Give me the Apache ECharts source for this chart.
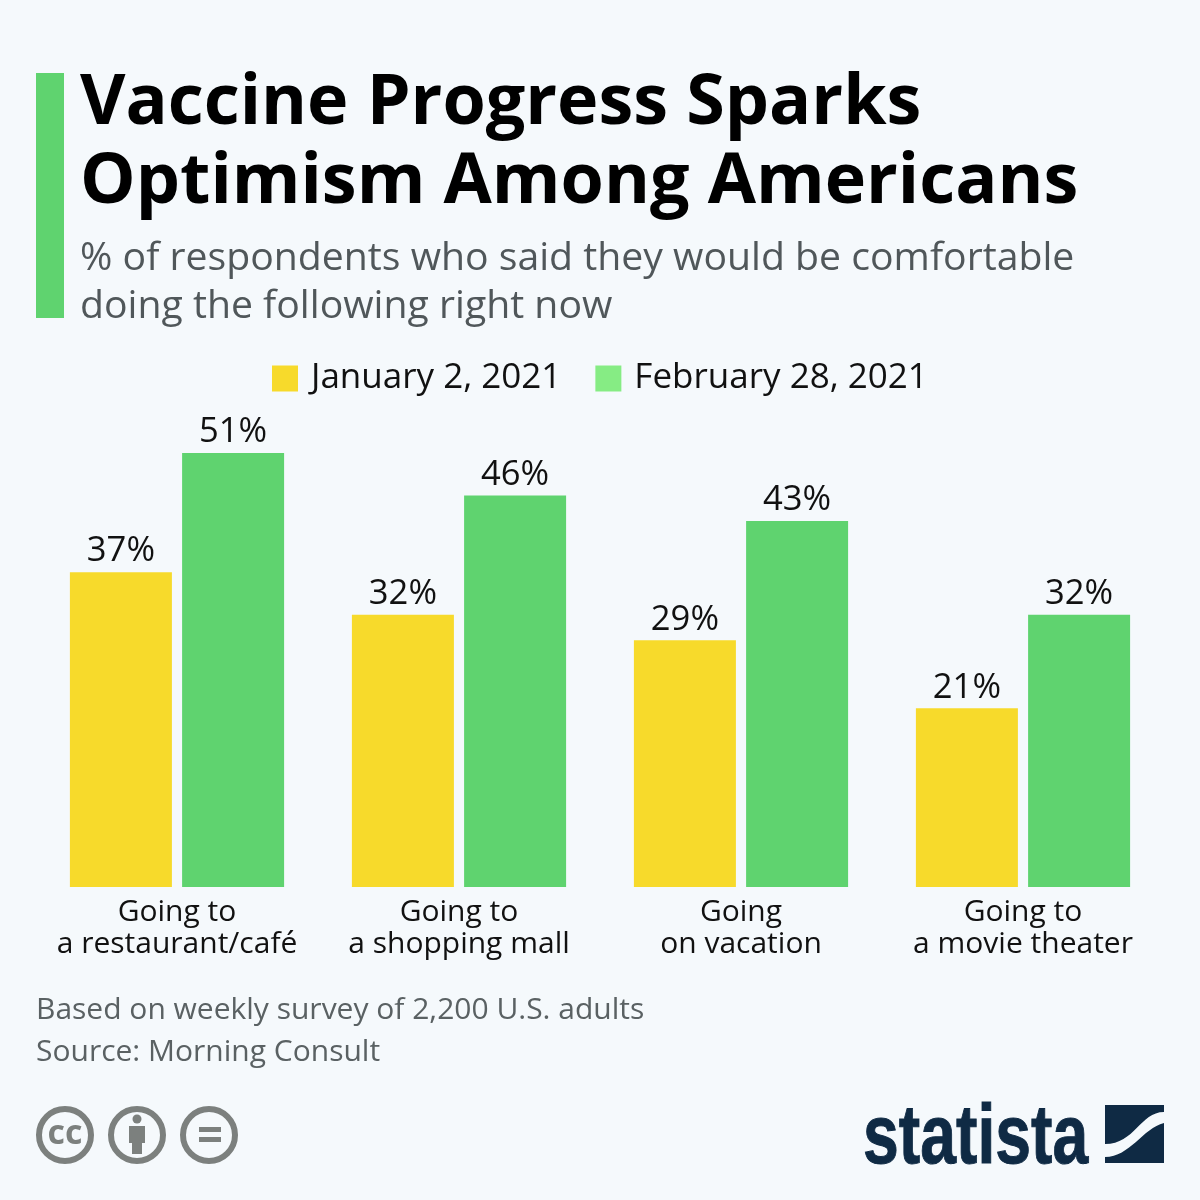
<!DOCTYPE html>
<html>
<head>
<meta charset="utf-8">
<style>
html, body { margin: 0; padding: 0; background: #f5f9fc; }
#chart { width: 1200px; height: 1200px; }
</style>
<script src="https://cdn.jsdelivr.net/npm/echarts@6/dist/echarts.min.js"></script>
</head>
<body>
<div id="chart"></div>
<script>
const categories = ['Going to\na restaurant/café', 'Going to\na shopping mall', 'Going\non vacation', 'Going to\na movie theater'];
const january = [37, 32, 29, 21];
const february = [51, 46, 43, 32];
const seriesNames = ['January 2, 2021', 'February 28, 2021'];

const FONT = '"Open Sans", "Noto Sans", sans-serif';
const GREY = '#7c807e';
const NAVY = '#0f2a44';

// graphic has no plain "path" type, so the logo mark is registered as a shape
echarts.graphic.registerShape('logoMark', echarts.graphic.extendShape({
    buildPath(ctx) {
        ctx.moveTo(1105, 1105);
        ctx.lineTo(1164, 1105);
        ctx.lineTo(1164, 1112);
        ctx.bezierCurveTo(1140, 1112, 1135, 1144, 1105, 1144);
        ctx.closePath();
        ctx.moveTo(1164, 1123);
        ctx.lineTo(1164, 1163);
        ctx.lineTo(1105, 1163);
        ctx.lineTo(1105, 1157);
        ctx.bezierCurveTo(1130, 1157, 1143, 1128, 1164, 1123);
        ctx.closePath();
    },
}));

const myChart = echarts.init(document.getElementById('chart'), null, { renderer: 'canvas' });

const valueLabel = {
    show: true,
    position: 'top',
    distance: 3,
    fontFamily: FONT,
    fontSize: 34.6,
    color: '#111',
    formatter: '{c}%',
};

const ring = (cx) => ({
    type: 'circle',
    shape: { cx: cx, cy: 1135, r: 26 },
    style: { fill: 'none', stroke: GREY, lineWidth: 6 },
});

const option = {
    backgroundColor: '#f5f9fc',
    animation: false,
    title: [
        {
            text: 'Vaccine Progress Sparks\nOptimism Among Americans',
            left: 80,
            top: 65,
            padding: 0,
            textStyle: { fontFamily: FONT, fontSize: 70, fontWeight: 'bold', color: '#000', lineHeight: 79 },
        },
        {
            text: '% of respondents who said they would be comfortable\ndoing the following right now',
            left: 80,
            top: 235,
            padding: 0,
            textStyle: { fontFamily: FONT, fontSize: 39.2, fontWeight: 'normal', color: '#50575a', lineHeight: 48 },
        },
        {
            text: 'Based on weekly survey of 2,200 U.S. adults\nSource: Morning Consult',
            left: 36,
            top: 989,
            padding: 0,
            textStyle: { fontFamily: FONT, fontSize: 30, fontWeight: 'normal', color: '#5a6163', lineHeight: 42 },
        },
    ],
    legend: {
        left: 272,
        top: 361,
        padding: 0,
        icon: 'rect',
        itemWidth: 26,
        itemHeight: 26,
        itemGap: 34,
        textStyle: { fontFamily: FONT, fontSize: 35, color: '#111', padding: [1, 0, 0, 8] },
        data: [
            { name: seriesNames[0], itemStyle: { color: '#f7da2b' } },
            { name: seriesNames[1], itemStyle: { color: '#86ec84' } },
        ],
    },
    grid: { left: 36, right: 36, top: 453, bottom: 313 },
    xAxis: {
        type: 'category',
        data: categories,
        axisLine: { show: false },
        axisTick: { show: false },
        axisLabel: { interval: 0, margin: 9, fontFamily: FONT, fontSize: 30, lineHeight: 32, color: '#111' },
    },
    yAxis: {
        type: 'value',
        min: 0,
        max: 51,
        show: false,
    },
    series: [
        {
            name: seriesNames[0],
            type: 'bar',
            data: january,
            barWidth: 102,
            barGap: '10%',
            itemStyle: { color: '#f7da2b' },
            label: valueLabel,
        },
        {
            name: seriesNames[1],
            type: 'bar',
            data: february,
            barWidth: 102,
            itemStyle: { color: '#5fd36f' },
            label: valueLabel,
        },
    ],
    graphic: [
        // green bar next to the headline
        { type: 'rect', shape: { x: 36, y: 73, width: 28, height: 245 }, style: { fill: '#5fd36f' } },
        // licence icons
        ring(65),
        { type: 'text', style: { x: 65, y: 1134, text: 'cc', align: 'center', verticalAlign: 'middle', fontFamily: FONT, fontWeight: 'bold', fontSize: 34, fill: GREY } },
        ring(137),
        { type: 'circle', shape: { cx: 137, cy: 1119, r: 4.5 }, style: { fill: GREY } },
        { type: 'polygon', shape: { points: [[129, 1126], [145, 1126], [145, 1143], [142, 1143], [142, 1154], [132, 1154], [132, 1143], [129, 1143]] }, style: { fill: GREY } },
        ring(209),
        { type: 'rect', shape: { x: 199, y: 1127, width: 22, height: 5 }, style: { fill: GREY } },
        { type: 'rect', shape: { x: 199, y: 1137, width: 22, height: 5 }, style: { fill: GREY } },
        // statista logo
        {
            type: 'text',
            x: 863,
            y: 1098,
            scaleX: 0.766,
            style: { text: 'statista', fontFamily: '"Liberation Sans", sans-serif', fontWeight: 'bold', fontSize: 84, fill: NAVY, stroke: NAVY, lineWidth: 1 },
        },
        { type: 'logoMark', shape: {}, style: { fill: NAVY } },
    ],
};

option && myChart.setOption(option);
</script>
</body>
</html>
